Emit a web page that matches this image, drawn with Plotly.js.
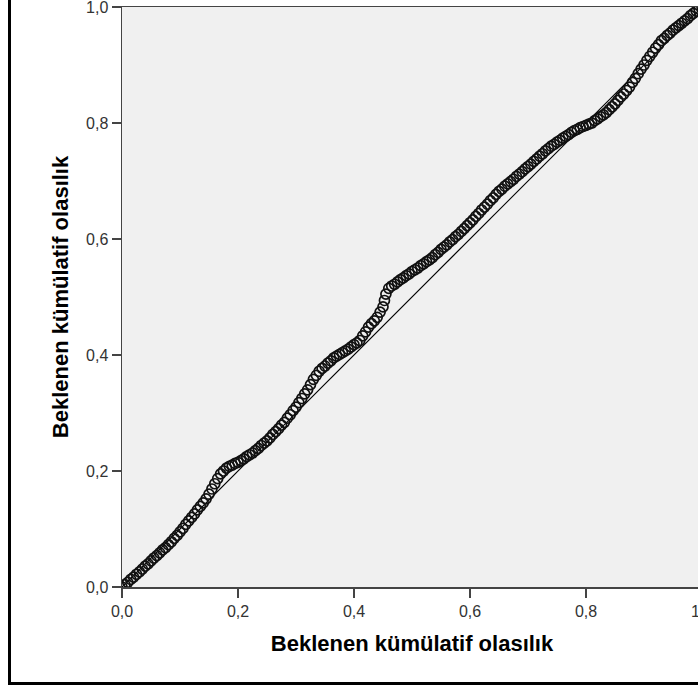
<!DOCTYPE html>
<html>
<head>
<meta charset="utf-8">
<script src="https://cdn.plot.ly/plotly-3.0.1.min.js"></script>
<style>
html,body{margin:0;padding:0;background:#fff;overflow:hidden;width:698px;height:688px;}
#chart{width:706px;height:688px;}
</style>
</head>
<body>
<div id="chart"></div>
<script>
const ppX = [0.000,0.005,0.010,0.015,0.020,0.025,0.030,0.035,0.040,0.045,0.050,0.055,0.060,0.065,0.070,0.075,0.080,0.085,0.090,0.095,
  0.100,0.105,0.110,0.115,0.120,0.125,0.130,0.135,0.140,0.145,0.150,0.155,0.160,0.165,0.170,0.175,0.180,0.185,0.190,0.195,
  0.200,0.205,0.210,0.215,0.220,0.225,0.230,0.235,0.240,0.245,0.250,0.255,0.260,0.265,0.270,0.275,0.280,0.285,0.290,0.295,
  0.300,0.305,0.310,0.315,0.320,0.325,0.330,0.335,0.340,0.345,0.350,0.355,0.360,0.365,0.370,0.375,0.380,0.385,0.390,0.395,
  0.400,0.405,0.410,0.415,0.420,0.425,0.430,0.435,0.440,0.445,0.450,0.4525,0.455,0.460,0.465,0.470,0.475,0.480,0.485,0.490,0.495,
  0.500,0.505,0.510,0.515,0.520,0.525,0.530,0.535,0.540,0.545,0.550,0.555,0.560,0.565,0.570,0.575,0.580,0.585,0.590,0.595,
  0.600,0.605,0.610,0.615,0.620,0.625,0.630,0.635,0.640,0.645,0.650,0.655,0.660,0.665,0.670,0.675,0.680,0.685,0.690,0.695,
  0.700,0.705,0.710,0.715,0.720,0.725,0.730,0.735,0.740,0.745,0.750,0.755,0.760,0.765,0.770,0.775,0.780,0.785,0.790,0.795,
  0.800,0.805,0.810,0.815,0.820,0.825,0.830,0.835,0.840,0.845,0.850,0.855,0.860,0.865,0.870,0.875,0.880,0.885,0.890,0.895,
  0.900,0.905,0.910,0.915,0.920,0.925,0.930,0.935,0.940,0.945,0.950,0.955,0.960,0.965,0.970,0.975,0.980,0.985,0.990,0.995,1.000];
const ppY = [0.000,0.004,0.008,0.013,0.017,0.022,0.026,0.031,0.036,0.040,0.045,0.050,0.054,0.059,0.064,0.068,0.073,0.078,0.084,0.089,
  0.095,0.101,0.108,0.114,0.120,0.126,0.133,0.139,0.145,0.152,0.160,0.169,0.178,0.187,0.195,0.200,0.205,0.208,0.210,0.213,
  0.215,0.218,0.221,0.225,0.228,0.231,0.235,0.239,0.244,0.248,0.252,0.257,0.263,0.268,0.273,0.279,0.284,0.291,0.297,0.304,
  0.310,0.318,0.325,0.333,0.340,0.349,0.358,0.365,0.372,0.377,0.381,0.386,0.390,0.395,0.398,0.401,0.404,0.407,0.410,0.414,
  0.418,0.421,0.425,0.433,0.440,0.448,0.454,0.459,0.465,0.474,0.483,0.494,0.505,0.515,0.519,0.522,0.526,0.530,0.533,0.537,0.540,
  0.544,0.547,0.550,0.554,0.557,0.561,0.564,0.568,0.573,0.577,0.582,0.586,0.590,0.595,0.599,0.604,0.608,0.613,0.618,0.623,
  0.628,0.633,0.639,0.644,0.650,0.655,0.660,0.666,0.671,0.677,0.682,0.686,0.691,0.695,0.699,0.703,0.708,0.712,0.716,0.721,
  0.725,0.729,0.734,0.738,0.743,0.747,0.752,0.756,0.760,0.763,0.767,0.770,0.774,0.777,0.780,0.784,0.787,0.789,0.792,0.794,
  0.796,0.798,0.800,0.804,0.807,0.811,0.814,0.818,0.823,0.828,0.833,0.839,0.845,0.850,0.856,0.862,0.870,0.877,0.885,0.893,
  0.900,0.908,0.915,0.922,0.929,0.935,0.942,0.946,0.951,0.955,0.960,0.964,0.968,0.972,0.976,0.980,0.985,0.989,0.993,0.996,1.000];
const refX = [0, 1];
const refY = [0, 1];
const tickVals = [0, 0.2, 0.4, 0.6, 0.8, 1.0];
const tickText = ["0,0", "0,2", "0,4", "0,6", "0,8", "1,0"];
const xTitle = "Beklenen kümülatif olasılık";
const yTitle = "Beklenen kümülatif olasılık";

const font = "Liberation Sans, Arial, sans-serif";
const W = 706, H = 688, L = 122, R = 4, T = 7, B = 101;
const pw = W - L - R, ph = H - T - B;
const px2x = p => (p - L) / pw;
const py2y = p => (H - B - p) / ph;

const traces = [
  {x: refX, y: refY, type: 'scatter', mode: 'lines', line: {color: '#000', width: 1.2}, hoverinfo: 'skip'},
  {x: ppX, y: ppY, type: 'scatter', mode: 'markers',
   marker: {symbol: 'circle-open', size: 10, color: '#111', line: {width: 1.7, color: '#111'}}}
];

const axisCommon = {
  range: [0, 1], tickvals: tickVals, ticktext: tickText,
  ticks: 'outside', ticklen: 9, tickwidth: 1.5, tickcolor: '#444',
  showline: true, linecolor: '#444', linewidth: 1.5, mirror: true,
  showgrid: false, zeroline: false, fixedrange: true,
  ticklabeloverflow: 'allow',
  tickfont: {family: font, size: 16, color: '#333'}
};

const layout = {
  width: W, height: H,
  margin: {l: L, r: R, t: T, b: B},
  paper_bgcolor: '#fff', plot_bgcolor: '#f0f0f0',
  showlegend: false,
  xaxis: Object.assign({}, axisCommon, {
    title: {text: xTitle, font: {family: font, size: 22, color: '#000', weight: 'bold'}, standoff: 17},
    automargin: false
  }),
  yaxis: Object.assign({}, axisCommon, {
    title: {text: yTitle, font: {family: font, size: 22, color: '#000', weight: 'bold'}, standoff: 11},
    automargin: false
  }),
  shapes: [{
    type: 'rect', xref: 'paper', yref: 'paper', layer: 'above',
    x0: px2x(9.5), x1: px2x(760), y0: py2y(683.5), y1: py2y(-60),
    line: {color: '#000', width: 3}, fillcolor: 'rgba(0,0,0,0)'
  }]
};

Plotly.newPlot('chart', traces, layout, {staticPlot: true, displayModeBar: false});
</script>
</body>
</html>
